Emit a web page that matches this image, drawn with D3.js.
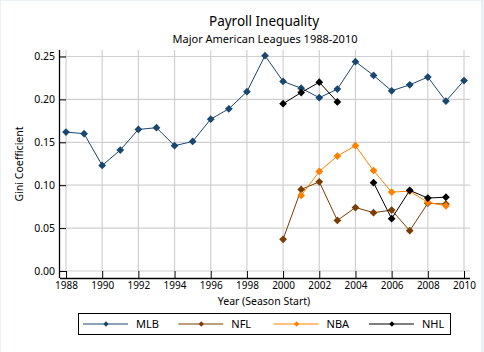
<!DOCTYPE html>
<html><head><meta charset="utf-8">
<script src="https://cdn.jsdelivr.net/npm/d3@7"></script>
<style>body{margin:0;background:#eaf2f3;} svg{display:block;}</style>
</head><body>
<svg id="c" width="484" height="352"></svg>
<script>
const years = [1988,1989,1990,1991,1992,1993,1994,1995,1996,1997,1998,1999,2000,2001,2002,2003,2004,2005,2006,2007,2008,2009,2010];
const mlb = [0.162,0.160,0.123,0.141,0.165,0.167,0.146,0.151,0.177,0.189,0.209,0.251,0.221,0.213,0.202,0.212,0.244,0.228,0.210,0.217,0.226,0.198,0.222];
const nflYears = [2000,2001,2002,2003,2004,2005,2006,2007,2008,2009];
const nfl = [0.037,0.095,0.104,0.059,0.074,0.068,0.071,0.047,0.079,0.078];
const nbaYears = [2001,2002,2003,2004,2005,2006,2007,2008,2009];
const nba = [0.088,0.116,0.134,0.146,0.117,0.092,0.093,0.080,0.076];
const nhlYears = [2000,2001,2002,2003,2005,2006,2007,2008,2009];
const nhl = [0.195,0.208,0.220,0.197,0.103,0.061,0.094,0.085,0.086];
const xTicks = [1988,1990,1992,1994,1996,1998,2000,2002,2004,2006,2008,2010];
const yTicks = [0,0.05,0.10,0.15,0.20,0.25];
const seriesNames = ["MLB","NFL","NBA","NHL"];
const colors = ["#1a476f","#7a3d00","#ff8000","#000000"];

(function(){
const svg = d3.select("#c");
const font = "'Noto Sans', sans-serif";
svg.append("rect").attr("x",1).attr("y",1).attr("width",480).attr("height",351).attr("fill","#fff");

const x = d3.scaleLinear().domain([1988,2010]).range([66,464]);
const y = d3.scaleLinear().domain([0,0.25]).range([271,56.5]);
const pL = 60, pR = 470, pT = 50, pB = 278;

// gridlines
const g = svg.append("g");
g.selectAll(".hg").data(yTicks).enter().append("line")
  .attr("x1",pL).attr("x2",pR).attr("y1",d=>y(d)).attr("y2",d=>y(d))
  .attr("stroke","#d0d0d0").attr("stroke-width",1.2);
g.selectAll(".vg").data(xTicks).enter().append("line")
  .attr("x1",d=>x(d)).attr("x2",d=>x(d)).attr("y1",pT).attr("y2",y(0))
  .attr("stroke","#d0d0d0").attr("stroke-width",1.2);

// axes
const xAxis = d3.axisBottom(x).tickValues(xTicks).tickFormat(d3.format("d")).tickSizeInner(-7).tickSizeOuter(0).tickPadding(4);
const gx = svg.append("g").attr("transform",`translate(0,${pB})`).call(xAxis);
gx.select(".domain").attr("d",`M${pL},0.5H${pR}`).attr("stroke","#000").attr("stroke-width",1.3);
gx.selectAll(".tick line").attr("stroke","#000");
gx.selectAll("text").attr("font-family",font).attr("font-size","10px").attr("fill","#000");

const yAxis = d3.axisLeft(y).tickValues(yTicks).tickFormat(d3.format(".2f")).tickSizeInner(-6).tickSizeOuter(0).tickPadding(5);
const gy = svg.append("g").attr("transform",`translate(${pL},0)`).call(yAxis);
gy.select(".domain").attr("d",`M-0.5,${pT}V${pB}`).attr("stroke","#000").attr("stroke-width",1.3);
gy.selectAll(".tick line").attr("stroke","#000");
gy.selectAll("text").attr("font-family",font).attr("font-size","10.5px").attr("fill","#000");

// titles
svg.append("text").attr("x",264).attr("y",26).attr("text-anchor","middle")
  .attr("font-family",font).attr("font-size","13.5px").attr("fill","#000").text("Payroll Inequality");
svg.append("text").attr("x",265).attr("y",43).attr("text-anchor","middle")
  .attr("font-family",font).attr("font-size","11px").attr("fill","#000").text("Major American Leagues 1988-2010");
svg.append("text").attr("x",264).attr("y",305).attr("text-anchor","middle")
  .attr("font-family",font).attr("font-size","10.5px").attr("fill","#000").text("Year (Season Start)");
svg.append("text").attr("transform","translate(23,164) rotate(-90)").attr("text-anchor","middle")
  .attr("font-family",font).attr("font-size","10.5px").attr("fill","#000").text("Gini Coefficient");

// series
const series = [
  {xs: years, vs: mlb},
  {xs: nflYears, vs: nfl},
  {xs: nbaYears, vs: nba},
  {xs: nhlYears, vs: nhl}
];
const line = d3.line().x(d=>x(d[0])).y(d=>y(d[1]));
const sym = d3.symbol().type(d3.symbolSquare).size(30);
series.forEach((s,i)=>{
  const pts = s.xs.map((yr,j)=>[yr,s.vs[j]]);
  const segs = [];
  let cur = [];
  pts.forEach((p,j)=>{
    if (j>0 && p[0]-pts[j-1][0] > 1) { segs.push(cur); cur = []; }
    cur.push(p);
  });
  segs.push(cur);
  segs.forEach(seg=>{
    svg.append("path").attr("d",line(seg)).attr("fill","none").attr("stroke",colors[i]).attr("stroke-width",1);
  });
  svg.selectAll(null).data(pts).enter().append("path")
    .attr("d",sym).attr("transform",d=>`translate(${x(d[0])},${y(d[1])}) rotate(45)`)
    .attr("fill",colors[i]);
});

// legend
svg.append("rect").attr("x",78.5).attr("y",313.5).attr("width",372).attr("height",21)
  .attr("fill","#fff").attr("stroke","#000").attr("stroke-width",1);
const legSym = d3.symbol().type(d3.symbolSquare).size(14);
seriesNames.forEach((n,i)=>{
  const lx = 83 + i*95.3;
  const ly = 324;
  svg.append("line").attr("x1",lx).attr("x2",lx+45).attr("y1",ly).attr("y2",ly).attr("stroke",colors[i]).attr("stroke-width",1);
  svg.append("path").attr("d",legSym).attr("transform",`translate(${lx+23},${ly}) rotate(45)`).attr("fill",colors[i]);
  svg.append("text").attr("x",lx+53).attr("y",ly+4).attr("font-family",font).attr("font-size","11px").attr("fill","#000").text(n);
});
})();
</script>
</body></html>
